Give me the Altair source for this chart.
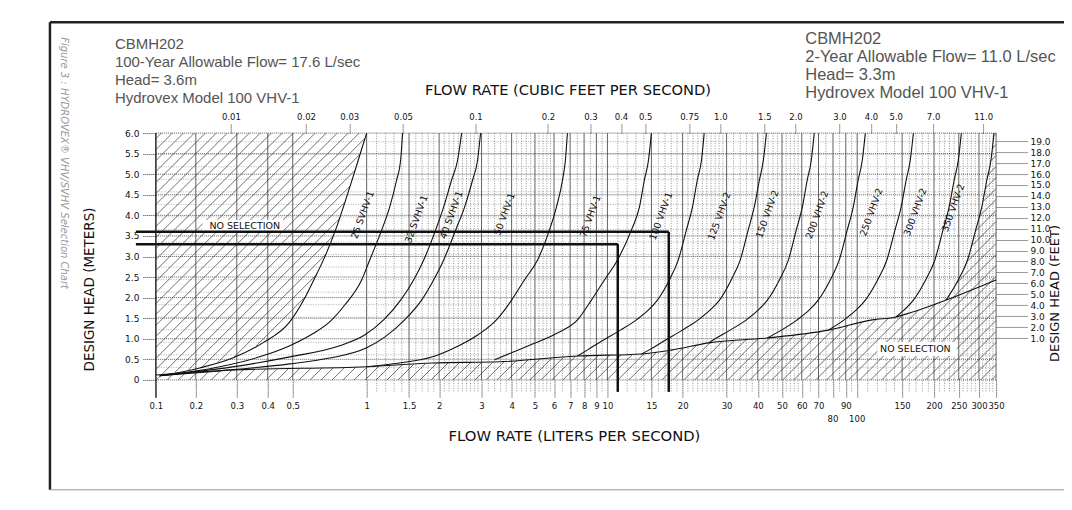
import altair as alt
import numpy as np
import pandas as pd

W, H = 841, 247

# ---- axis / scale definitions ----
x_dom = [0.1, 0.2, 0.3, 0.4, 0.5, 1, 10, 100, 350]
x_rng = [0, 40, 81, 112, 137, 211, 452, 702, 841]

lps_ticks = [0.1, 0.2, 0.3, 0.4, 0.5, 1, 1.5, 2, 3, 4, 5, 6, 7, 8, 9, 10, 15, 20, 30,
             40, 50, 60, 70, 80, 90, 100, 150, 200, 250, 300, 350]
lps_low_labels = [80, 100]
cfs_ticks = [0.01, 0.02, 0.03, 0.05, 0.1, 0.2, 0.3, 0.4, 0.5, 0.75, 1.0, 1.5, 2.0,
             3.0, 4.0, 5.0, 7.0, 11.0]
m_ticks = [0, 0.5, 1.0, 1.5, 2.0, 2.5, 3.0, 3.5, 4.0, 4.5, 5.0, 5.5, 6.0]
ft_ticks = list(range(1, 20))
ft_axis_domain = [-2.83, 19.74]
LPS_PER_CFS = 28.3168
M_PER_FT = 0.3048

minor_lps = ([1.1, 1.2, 1.3, 1.4, 1.6, 1.7, 1.8, 1.9, 2.1, 2.2, 2.3, 2.4, 2.5, 2.6, 2.7, 2.8, 2.9]
             + [3.2, 3.4, 3.6, 3.8, 4.2, 4.4, 4.6, 4.8, 5.2, 5.4, 5.6, 5.8, 6.5, 7.5, 8.5, 9.5]
             + [11, 12, 13, 14, 16, 17, 18, 19, 21, 22, 23, 24, 25, 26, 27, 28, 29]
             + [32, 34, 36, 38, 42, 44, 46, 48, 52, 54, 56, 58, 65, 75, 85, 95]
             + [110, 120, 130, 140, 160, 170, 180, 190, 210, 220, 230, 240, 260, 270, 280, 290,
                310, 320, 330, 340])

# ---- curves (flow L/s, head m), bottom to top ----
edge_flow = [0.107, 0.208, 0.288, 0.382, 0.487, 0.554, 0.609, 0.681, 0.755, 0.821, 0.885, 0.946, 1.0]
edge_head = [0.10, 0.29, 0.53, 0.90, 1.41, 1.94, 2.43, 3.04, 3.72, 4.37, 4.98, 5.54, 6.0]

low_flow = [0.1, 0.288, 1.0, 1.879, 3.56, 7.51, 13.7, 18.2, 25.4, 43.7, 76.6, 114.8, 141.9, 161.4, 222.8, 350]
low_head = [0.12, 0.24, 0.32, 0.41, 0.44, 0.58, 0.63, 0.73, 0.90, 1.02, 1.21, 1.46, 1.53, 1.63, 1.94, 2.43]

flow_25s = [0.107, 0.254, 0.371, 0.487, 0.603, 0.707, 0.814, 0.954, 1.029, 1.154, 1.246, 1.332, 1.384, 1.41]
head_25s = [0.10, 0.32, 0.56, 0.83, 1.12, 1.41, 1.82, 2.43, 2.91, 3.64, 4.20, 4.86, 5.34, 6.0]
flow_32s = [0.107, 0.308, 0.487, 0.776, 0.981, 1.176, 1.384, 1.567, 1.724, 1.933, 2.087, 2.253, 2.386, 2.479]
head_32s = [0.10, 0.34, 0.56, 0.83, 1.09, 1.46, 1.94, 2.43, 2.91, 3.64, 4.20, 4.86, 5.34, 6.0]
flow_40s = [0.107, 0.254, 0.487, 0.707, 1.0, 1.188, 1.438, 1.691, 1.897, 2.087, 2.341, 2.551, 2.754, 2.888, 2.972]
head_40s = [0.10, 0.22, 0.39, 0.53, 0.78, 1.04, 1.46, 1.94, 2.43, 2.91, 3.64, 4.20, 4.86, 5.34, 6.0]
flow_50 = [1.0, 1.37, 1.879, 2.32, 2.89, 3.46, 4.00, 4.52, 5.12, 5.74, 6.14, 6.51, 6.69, 6.82]
head_50 = [0.32, 0.41, 0.56, 0.78, 1.09, 1.46, 1.94, 2.43, 2.91, 3.64, 4.20, 4.86, 5.34, 6.0]
flow_75 = [3.40, 4.00, 4.88, 6.20, 7.51, 8.58, 9.72, 10.96, 12.47, 13.43, 14.06, 14.6, 15.0]
head_75 = [0.49, 0.66, 0.87, 1.14, 1.46, 1.94, 2.43, 2.91, 3.64, 4.20, 4.86, 5.34, 6.0]
flow_100 = [7.51, 8.27, 9.63, 11.27, 13.06, 14.6, 15.85, 17.7, 19.2, 20.7, 21.9, 22.9, 23.8, 24.4]
head_100 = [0.58, 0.73, 0.97, 1.21, 1.46, 1.70, 1.94, 2.43, 2.91, 3.64, 4.20, 4.86, 5.34, 6.0]
flow_125 = [13.7, 14.7, 17.1, 19.95, 23.1, 25.8, 28.1, 31.3, 34.0, 36.6, 38.7, 40.6, 42.1, 43.3]
head_125 = [0.63, 0.73, 0.97, 1.21, 1.46, 1.70, 1.94, 2.43, 2.91, 3.64, 4.20, 4.86, 5.34, 6.0]
flow_150 = [25.4, 26.5, 31.0, 36.0, 40.2, 43.7, 48.8, 53.0, 57.0, 60.3, 63.1, 65.5, 67.3]
head_150 = [0.90, 0.97, 1.21, 1.46, 1.70, 1.94, 2.43, 2.91, 3.64, 4.20, 4.86, 5.34, 6.0]
flow_200 = [43.7, 49.7, 57.5, 64.3, 69.8, 78.0, 84.7, 91.2, 96.4, 100.9, 104.7, 107.6]
head_200 = [1.02, 1.21, 1.46, 1.70, 1.94, 2.43, 2.91, 3.64, 4.20, 4.86, 5.34, 6.0]
flow_250 = [76.6, 88.7, 99.1, 107.6, 120.2, 130.6, 140.6, 148.6, 155.6, 161.4, 166.0]
head_250 = [1.21, 1.46, 1.70, 1.94, 2.43, 2.91, 3.64, 4.20, 4.86, 5.34, 6.0]
flow_300 = [141.9, 152.8, 166.0, 185.4, 201.4, 216.8, 229.1, 239.9, 248.9, 255.9]
head_300 = [1.53, 1.70, 1.94, 2.43, 2.91, 3.64, 4.20, 4.86, 5.34, 6.0]
flow_350 = [222.8, 248.9, 270.4, 291.1, 307.6, 322.1, 334.2, 343.6]
head_350 = [1.94, 2.43, 2.91, 3.64, 4.20, 4.86, 5.34, 6.0]

curve_sets = [("edge", edge_flow, edge_head), ("low", low_flow, low_head),
              ("25s", flow_25s, head_25s), ("32s", flow_32s, head_32s), ("40s", flow_40s, head_40s),
              ("50", flow_50, head_50), ("75", flow_75, head_75), ("100", flow_100, head_100),
              ("125", flow_125, head_125), ("150", flow_150, head_150), ("200", flow_200, head_200),
              ("250", flow_250, head_250), ("300", flow_300, head_300), ("350", flow_350, head_350)]
df_curves = pd.DataFrame([{"curve": n, "L": f, "m": h}
                          for n, fl, hl in curve_sets for f, h in zip(fl, hl)])

label_names = ["25 SVHV-1", "32 SVHV-1", "40 SVHV-1", "50 VHV-1", "75 VHV-1", "100 VHV-1",
               "125 VHV-2", "150 VHV-2", "200 VHV-2", "250 VHV-2", "300 VHV-2", "350 VHV-2"]
label_flow = [0.963, 1.61, 2.25, 3.74, 8.5, 16.4, 28.1, 43.7, 69.2, 113.8, 169.0, 237.7]
label_head = [4.01, 3.91, 4.01, 4.03, 3.98, 3.98, 3.98, 4.03, 4.01, 4.08, 4.08, 4.18]
df_labels = pd.DataFrame({"name": label_names, "L": label_flow, "m": label_head})

nosel_flow = [0.323, 169.0]
nosel_head = [3.74, 0.75]
box_flow1 = [0.214, 120.0]
box_flow2 = [0.461, 245.0]
box_head1 = [3.57, 0.58]
box_head2 = [3.89, 0.92]

sel_flow = [17.6, 11.0]
sel_head = [3.6, 3.3]

text_left = ["CBMH202", "100-Year Allowable Flow= 17.6 L/sec", "Head= 3.6m", "Hydrovex Model 100 VHV-1"]
text_right = ["CBMH202", "2-Year Allowable Flow= 11.0 L/sec", "Head= 3.3m", "Hydrovex Model 100 VHV-1"]
caption = "Figure 3 : HYDROVEX\u00ae VHV/SVHV Selection Chart"

# ---- hatch of the NO SELECTION zones (derived from the boundary curves) ----
lx_dom = np.log10(x_dom)


def px_to_x(u):
    return 10 ** np.interp(u, x_rng, lx_dom)


def no_sel(L, m):
    lL = np.log10(L)
    a = lL < np.interp(m, edge_head, np.log10(edge_flow))
    b = m < np.interp(lL, np.log10(low_flow), low_head)
    c = lL > np.interp(m, head_350, np.log10(flow_350))
    return a | b | c


rows = []
sp = 11.0
for cc in np.arange(sp / 2, W + H, sp):
    u = np.arange(max(0.0, cc - H), min(W, cc) + 1e-9, 0.5)
    if len(u) < 2:
        continue
    v = cc - u
    L = px_to_x(u)
    m = 6.0 * (1 - v / H)
    ins = no_sel(L, m).astype(int)
    idx = np.flatnonzero(np.diff(np.concatenate([[0], ins, [0]])))
    for s, e in zip(idx[::2], idx[1::2]):
        if e - 1 - s < 3:
            continue
        rows.append({"x": float(L[s]), "y": float(m[s]), "x2": float(L[e - 1]), "y2": float(m[e - 1])})
df_hatch = pd.DataFrame(rows)

# ---- scales & axes ----
FONT = "DejaVu Sans"


def xs():
    return alt.Scale(type="log", domain=x_dom, range=x_rng, nice=False)


def ys():
    return alt.Scale(domain=[0, 6], nice=False, zero=False)


bottom_axis = alt.Axis(
    orient="bottom", values=lps_ticks, format="~g",
    labelExpr="(datum.value == 80 || datum.value == 100) ? '' : datum.label",
    tickSize=18, tickDash=[1, 1], tickColor="#333", domain=False, grid=False,
    labelFont=FONT, labelFontSize=8.5, labelColor="#111", labelPadding=4,
    labelFlush=False, labelOverlap=False,
    title="FLOW RATE (LITERS PER SECOND)", titleFont=FONT, titleFontSize=14.8,
    titleFontWeight="normal", titleColor="#111", titleY=57, titleX=W / 2 - 2,
    titleBaseline="middle", titleAlign="center")
left_axis = alt.Axis(
    orient="left", values=m_ticks,
    labelExpr="datum.value == 0 ? '0' : format(datum.value, '.1f')",
    tickSize=14, tickDash=[1, 1], tickColor="#333", domain=False, grid=False,
    labelFont=FONT, labelFontSize=9, labelColor="#111", labelPadding=3, labelFlush=False,
    title="DESIGN HEAD (METERS)", titleFont=FONT, titleFontSize=13.5, titleFontWeight="normal",
    titleColor="#111", titleAngle=270, titleX=-66, titleY=156, titleAlign="center",
    titleBaseline="middle")
right_axis = alt.Axis(
    orient="right", values=ft_ticks, format=".1f",
    tickSize=32, tickDash=[1, 1], tickColor="#333", domain=False, grid=False,
    labelFont=FONT, labelFontSize=9, labelColor="#111", labelPadding=2, labelFlush=False,
    title="DESIGN HEAD (FEET)", titleFont=FONT, titleFontSize=13, titleFontWeight="normal",
    titleColor="#111", titleAngle=270, titleX=58, titleY=160, titleAlign="center",
    titleBaseline="middle")
top_axis = alt.Axis(
    orient="top", values=[c * LPS_PER_CFS for c in cfs_ticks],
    labelExpr=("datum.value / 28.3168 >= 0.99 ? format(datum.value / 28.3168, '.1f')"
               " : format(datum.value / 28.3168, '.2~f')"),
    tickSize=9, tickDash=[1, 1], tickColor="#333", domain=False, grid=False,
    labelFont=FONT, labelFontSize=8.5, labelColor="#111", labelPadding=3, labelFlush=False,
    labelOverlap=False,
    title="FLOW RATE (CUBIC FEET PER SECOND)", titleFont=FONT, titleFontSize=14.7,
    titleFontWeight="normal", titleColor="#111", titleX=412, titleY=-43,
    titleBaseline="middle", titleAlign="center")

one = pd.DataFrame({"a": [0]})

grid_minor = alt.Chart(pd.DataFrame({"L": minor_lps})).mark_rule(
    color="#666", strokeWidth=0.7, strokeDash=[1, 1.5]).encode(
    x=alt.X("L:Q", scale=xs(), axis=None), y=alt.value(0), y2=alt.value(H + 12))
grid_major = alt.Chart(pd.DataFrame({"L": lps_ticks})).mark_rule(
    color="#3a3a3a", strokeWidth=0.8).encode(
    x=alt.X("L:Q", scale=xs(), axis=None), y=alt.value(0), y2=alt.value(H))
grid_ft = alt.Chart(pd.DataFrame({"ft": ft_ticks})).transform_calculate(
    m=f"datum.ft * {M_PER_FT}").mark_rule(
    color="#777", strokeWidth=0.6, strokeDash=[1, 1.5]).encode(
    y=alt.Y("m:Q", scale=ys(), axis=None), x=alt.value(0), x2=alt.value(W))
grid_m = alt.Chart(pd.DataFrame({"m": m_ticks})).mark_rule(
    color="#333", strokeWidth=0.8, strokeDash=[1, 1]).encode(
    y=alt.Y("m:Q", scale=ys(), axis=None), x=alt.value(0), x2=alt.value(W))

hatch = alt.Chart(df_hatch).mark_rule(color="#333", strokeWidth=0.7).encode(
    x=alt.X("x:Q", scale=xs(), axis=None), x2="x2:Q",
    y=alt.Y("y:Q", scale=ys(), axis=None), y2="y2:Q")

boxes = alt.Chart(pd.DataFrame({"x": box_flow1, "x2": box_flow2, "y": box_head1, "y2": box_head2})
                  ).mark_rect(fill="white").encode(
    x=alt.X("x:Q", scale=xs(), axis=None), x2="x2:Q",
    y=alt.Y("y:Q", scale=ys(), axis=None), y2="y2:Q")

curves = alt.Chart(df_curves).mark_line(color="#111", strokeWidth=1.1, interpolate="monotone").encode(
    x=alt.X("L:Q", scale=xs(), axis=bottom_axis),
    y=alt.Y("m:Q", scale=ys(), axis=left_axis),
    detail="curve:N")

df_sel = pd.DataFrame({"flow": sel_flow, "head": sel_head})
sel_h = alt.Chart(df_sel).mark_rule(color="#111", strokeWidth=2.5).encode(
    x=alt.X("flow:Q", scale=xs(), axis=None), x2=alt.value(-20),
    y=alt.Y("head:Q", scale=ys(), axis=None))
sel_v = alt.Chart(df_sel).mark_rule(color="#111", strokeWidth=2.5).encode(
    x=alt.X("flow:Q", scale=xs(), axis=None),
    y=alt.Y("head:Q", scale=ys(), axis=None), y2=alt.value(H + 12))

curve_labels = alt.Chart(df_labels).mark_text(
    angle=290, font=FONT, fontSize=9.5, color="#111").encode(
    x=alt.X("L:Q", scale=xs(), axis=None), y=alt.Y("m:Q", scale=ys(), axis=None), text="name:N")

nosel = alt.Chart(pd.DataFrame({"L": nosel_flow, "m": nosel_head})).mark_text(
    font=FONT, fontSize=9.5, color="#111", text="NO SELECTION").encode(
    x=alt.X("L:Q", scale=xs(), axis=None), y=alt.Y("m:Q", scale=ys(), axis=None))

low_labels = alt.Chart(pd.DataFrame({"L": lps_low_labels})).mark_text(
    font=FONT, fontSize=8.5, color="#111", baseline="middle").encode(
    x=alt.X("L:Q", scale=xs(), axis=None), y=alt.value(H + 39), text=alt.Text("L:Q", format="~g"))

txt_left = alt.Chart(one).mark_text(
    align="left", baseline="top", font="Liberation Sans", fontSize=15, color="#555",
    lineHeight=18).encode(x=alt.value(-41), y=alt.value(-96), text=alt.value(text_left))
txt_right = alt.Chart(one).mark_text(
    align="left", baseline="top", font="Liberation Sans", fontSize=16.5, color="#555",
    lineHeight=18).encode(x=alt.value(650), y=alt.value(-102), text=alt.value(text_right))
txt_caption = alt.Chart(one).mark_text(
    angle=90, font=FONT, fontStyle="italic", fontSize=10, color="#999").encode(
    x=alt.value(-92), y=alt.value(30), text=alt.value(caption))

frame_top = alt.Chart(one).mark_rule(color="#222", strokeWidth=2.5).encode(
    x=alt.value(-106), x2=alt.value(W + 70), y=alt.value(-111))
frame_left = alt.Chart(one).mark_rule(color="#222", strokeWidth=2.5).encode(
    x=alt.value(-106), y=alt.value(-111), y2=alt.value(357))
frame_bottom = alt.Chart(one).mark_rule(color="#999", strokeWidth=1).encode(
    x=alt.value(-106), x2=alt.value(W + 70), y=alt.value(357))
plot_left = alt.Chart(one).mark_rule(color="#222", strokeWidth=1.2).encode(
    x=alt.value(0), y=alt.value(0), y2=alt.value(H + 18))

feet = alt.Chart(pd.DataFrame({"ft": ft_ticks})).mark_point(opacity=0).encode(
    y=alt.Y("ft:Q", scale=alt.Scale(domain=ft_axis_domain, nice=False, zero=False), axis=right_axis))

top = alt.Chart(pd.DataFrame({"cfs": cfs_ticks})).transform_calculate(
    lps=f"datum.cfs * {LPS_PER_CFS}").mark_point(opacity=0).encode(
    x=alt.X("lps:Q", scale=xs(), axis=top_axis))

chart = alt.layer(
    grid_minor, grid_major, grid_ft, grid_m, hatch, boxes, curves, sel_h, sel_v,
    curve_labels, nosel, low_labels, txt_left, txt_right, txt_caption,
    frame_top, frame_left, frame_bottom, plot_left, feet, top
).resolve_scale(
    x="independent", y="independent").resolve_axis(
    x="independent", y="independent").properties(
    width=W, height=H,
    padding={"left": 148, "top": 125, "right": 68, "bottom": 120},
    autosize=alt.AutoSizeParams(type="none")).configure_view(stroke=None)

chart.save("out.html", embed_options={"renderer": "svg", "actions": False})
